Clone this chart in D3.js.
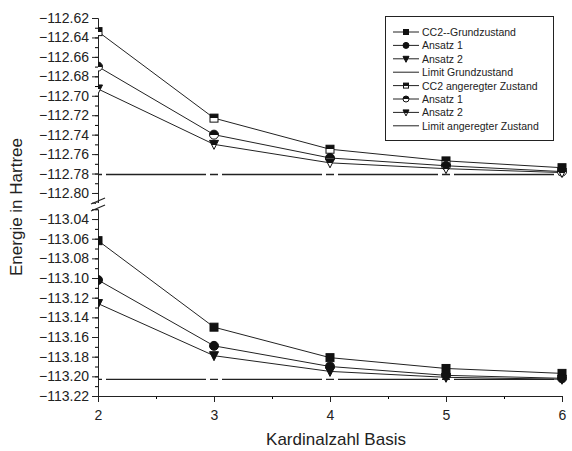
<!DOCTYPE html>
<html>
<head>
<meta charset="utf-8">
<script src="https://cdn.jsdelivr.net/npm/d3@7"></script>
<style>
  body { margin: 0; background: #fff; }
  svg { font-family: "Liberation Sans", Arial, sans-serif; }
</style>
</head>
<body>
<svg width="572" height="451"></svg>
<script>
// Daten
const basis = [2, 3, 4, 5, 6];
const xTicks = [2, 3, 4, 5, 6];
const upperTicks = [-112.62, -112.64, -112.66, -112.68, -112.70, -112.72, -112.74, -112.76, -112.78, -112.80];
const lowerTicks = [-113.04, -113.06, -113.08, -113.10, -113.12, -113.14, -113.16, -113.18, -113.20, -113.22];

const cc2Grund = [-113.062, -113.150, -113.181, -113.192, -113.197];
const ansatz1Grund = [-113.102, -113.169, -113.190, -113.199, -113.202];
const ansatz2Grund = [-113.126, -113.179, -113.195, -113.201, -113.203];
const limitGrund = [-113.203, -113.203, -113.203, -113.203, -113.203];

const cc2Anger = [-112.634, -112.723, -112.755, -112.767, -112.774];
const ansatz1Anger = [-112.670, -112.740, -112.764, -112.772, -112.778];
const ansatz2Anger = [-112.693, -112.750, -112.769, -112.775, -112.779];
const limitAnger = [-112.781, -112.781, -112.781, -112.781, -112.781];

const svg = d3.select('svg');
const left = 98, right = 562;

const x = d3.scaleLinear().domain([2, 6]).range([left, right]);
// oberer und unterer Achsenabschnitt (Achsenbruch)
const yUp = d3.scaleLinear().domain([-112.81, -112.62]).range([202.7, 18]);
const yLo = d3.scaleLinear().domain([-113.22, -113.03]).range([396, 209.2]);

const fmt = d3.format('.2f');

// Gradient fuer halb gefuellte Symbole
const defs = svg.append('defs');
const grad = defs.append('linearGradient').attr('id', 'half')
  .attr('x1', 0).attr('y1', 0).attr('x2', 0).attr('y2', 1);
grad.append('stop').attr('offset', '0.5').attr('stop-color', '#111');
grad.append('stop').attr('offset', '0.5').attr('stop-color', '#fff');

defs.append('clipPath').attr('id', 'plotclip')
  .append('rect').attr('x', left).attr('y', 0).attr('width', 572 - left).attr('height', 451);

// Achsen
function yAxis(scale, ticks, domain) {
  const minor = d3.range(Math.round(domain[0] * 100), Math.round(domain[1] * 100) + 1).map(v => v / 100);
  svg.append('g')
    .attr('transform', `translate(${left},0)`)
    .call(d3.axisLeft(scale).tickValues(minor).tickSize(3).tickFormat(''))
    .call(g => g.select('.domain').remove());
  svg.append('g')
    .attr('transform', `translate(${left},0)`)
    .call(d3.axisLeft(scale).tickValues(ticks).tickSize(6).tickPadding(3).tickFormat(fmt))
    .call(g => g.selectAll('text').attr('font-size', 14).attr('fill', '#222'))
    .call(g => g.selectAll('line,.domain').attr('stroke', '#222'));
}
yAxis(yUp, upperTicks, [-112.81, -112.62]);
yAxis(yLo, lowerTicks, [-113.22, -113.03]);

svg.append('g')
  .attr('transform', 'translate(0,396)')
  .call(d3.axisBottom(x).tickValues([2.5, 3.5, 4.5, 5.5]).tickSize(3).tickFormat(''))
  .call(g => g.select('.domain').remove());
svg.append('g')
  .attr('transform', 'translate(0,396)')
  .call(d3.axisBottom(x).tickValues(xTicks).tickSize(6).tickPadding(8).tickFormat(d3.format('d')))
  .call(g => g.selectAll('text').attr('font-size', 14).attr('fill', '#222'))
  .call(g => g.selectAll('line,.domain').attr('stroke', '#222'));

// Achsenbruch
const brk = svg.append('g').attr('stroke', '#222').attr('stroke-width', 1.2);
brk.append('rect').attr('x', left - 2).attr('y', 203).attr('width', 4).attr('height', 6).attr('fill', '#fff').attr('stroke', 'none');
brk.append('line').attr('x1', left - 7).attr('y1', 204).attr('x2', left + 7).attr('y2', 198);
brk.append('line').attr('x1', left - 7).attr('y1', 211).attr('x2', left + 7).attr('y2', 205);

// Symbole
function marker(g, type, cx, cy, s, fill) {
  const h = s / 2;
  let el;
  if (type === 'square') {
    el = g.append('rect').attr('x', cx - h).attr('y', cy - h).attr('width', s).attr('height', s);
  } else if (type === 'circle') {
    el = g.append('circle').attr('cx', cx).attr('cy', cy).attr('r', h + 0.5);
  } else {
    el = g.append('path').attr('d', `M${cx - h - 0.5},${cy - h}L${cx + h + 0.5},${cy - h}L${cx},${cy + h + 1}Z`);
  }
  el.attr('fill', fill).attr('stroke', '#111').attr('stroke-width', 1);
}

const line = (scale) => d3.line().x((d, i) => x(basis[i])).y(d => scale(d));
const plot = svg.append('g').attr('clip-path', 'url(#plotclip)');

const series = [
  { vals: cc2Grund, scale: yLo, m: 'square', fill: '#111', name: 'CC2--Grundzustand' },
  { vals: ansatz1Grund, scale: yLo, m: 'circle', fill: '#111', name: 'Ansatz 1' },
  { vals: ansatz2Grund, scale: yLo, m: 'tri', fill: '#111', name: 'Ansatz 2' },
  { vals: limitGrund, scale: yLo, m: null, name: 'Limit Grundzustand' },
  { vals: cc2Anger, scale: yUp, m: 'square', fill: 'url(#half)', name: 'CC2 angeregter Zustand' },
  { vals: ansatz1Anger, scale: yUp, m: 'circle', fill: 'url(#half)', name: 'Ansatz 1' },
  { vals: ansatz2Anger, scale: yUp, m: 'tri', fill: 'url(#half)', name: 'Ansatz 2' },
  { vals: limitAnger, scale: yUp, m: null, name: 'Limit angeregter Zustand' }
];

series.forEach(s => {
  const p = plot.append('path').datum(s.vals)
    .attr('d', line(s.scale))
    .attr('fill', 'none').attr('stroke', '#222').attr('stroke-width', 1);
  if (!s.m) p.attr('stroke-width', 1.3).attr('stroke-dasharray', '4,4,100,4,4,0');
});
series.filter(s => s.m).forEach(s => {
  s.vals.forEach((v, i) => marker(plot, s.m, x(basis[i]), s.scale(v), 8, s.fill));
});

// Legende
const lg = svg.append('g');
lg.append('rect').attr('x', 385.5).attr('y', 16.5).attr('width', 168).attr('height', 124)
  .attr('fill', '#fff').attr('stroke', '#222').attr('stroke-width', 1);
series.forEach((s, i) => {
  const yy = 32 + i * 13.4;
  lg.append('line').attr('x1', 393).attr('x2', 419).attr('y1', yy).attr('y2', yy)
    .attr('stroke', '#222').attr('stroke-width', 1);
  if (s.m) marker(lg, s.m, 406, yy, 5, s.fill);
  lg.append('text').attr('x', 422).attr('y', yy + 4).attr('font-size', 10.5).attr('fill', '#222').text(s.name);
});

// Achsentitel
svg.append('text')
  .attr('transform', 'translate(22,207) rotate(-90)')
  .attr('text-anchor', 'middle').attr('font-size', 17).attr('fill', '#222')
  .text('Energie in Hartree');
svg.append('text')
  .attr('x', 336).attr('y', 445)
  .attr('text-anchor', 'middle').attr('font-size', 17).attr('fill', '#222')
  .text('Kardinalzahl Basis');
</script>
</body>
</html>
